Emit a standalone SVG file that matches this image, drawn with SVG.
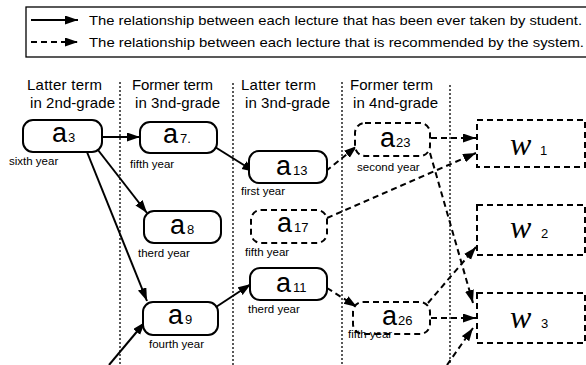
<svg xmlns="http://www.w3.org/2000/svg" width="586" height="365" viewBox="0 0 586 365">
<style>
text{font-family:"Liberation Sans","Noto Sans",sans-serif;fill:#000}
.hd{font-size:15px}
.lg{font-size:13.5px}
.sm{font-size:11.5px}
.big{font-size:27px}
.sub{font-size:13px}
.w{font-family:"Liberation Serif","DejaVu Serif",serif;font-style:italic;font-size:32px}
.box{fill:#fff;stroke:#000;stroke-width:2}
.dbox{fill:#fff;stroke:#000;stroke-width:2;stroke-dasharray:6,4}
.col{stroke:#000;stroke-width:1.3;stroke-dasharray:2,2;fill:none}
.s{stroke:#000;stroke-width:2;fill:none;marker-end:url(#ah)}
.d{stroke:#000;stroke-width:2;fill:none;stroke-dasharray:6,4;marker-end:url(#ah)}
</style>
<defs>
<marker id="ah" markerUnits="userSpaceOnUse" markerWidth="14" markerHeight="10" refX="13" refY="4.5" orient="auto">
<path d="M0,0 L13,4.5 L0,9 z" fill="#000"/>
</marker>
</defs>
<rect width="586" height="365" fill="#fff"/>

<g id="legend">
<rect x="26" y="7" width="570" height="50" fill="none" stroke="#000" stroke-width="1.3"/>
<line x1="31" y1="20" x2="78" y2="20" class="s"/>
<text x="89" y="25" class="lg" textLength="493" lengthAdjust="spacingAndGlyphs">The relationship between each lecture that has been ever taken by student.</text>
<line x1="31" y1="42" x2="78" y2="42" class="d"/>
<text x="89" y="47" class="lg" textLength="495" lengthAdjust="spacingAndGlyphs">The relationship between each lecture that is recommended by the system.</text>
</g>

<g id="columns">
<line x1="120" y1="82" x2="120" y2="365" class="col"/>
<line x1="233" y1="83" x2="233" y2="365" class="col"/>
<line x1="342" y1="82" x2="342" y2="365" class="col"/>
<line x1="450" y1="85" x2="450" y2="365" class="col"/>
<text x="27" y="90" class="hd" textLength="75">Latter term</text>
<text x="30" y="108" class="hd" textLength="85">in 2nd-grade</text>
<text x="132" y="90" class="hd" textLength="81">Former term</text>
<text x="135" y="108" class="hd" textLength="85">in 3nd-grade</text>
<text x="241" y="90" class="hd" textLength="75">Latter term</text>
<text x="245" y="108" class="hd" textLength="85">in 3nd-grade</text>
<text x="350" y="90" class="hd" textLength="83">Former term</text>
<text x="353" y="108" class="hd" textLength="85">in 4nd-grade</text>
</g>

<g id="connectors">
<line x1="102" y1="137" x2="140" y2="137" class="s"/>
<line x1="215" y1="147" x2="255" y2="172" class="s"/>
<line x1="98" y1="150" x2="147" y2="213" class="s"/>
<line x1="87" y1="152" x2="147" y2="301" class="s"/>
<line x1="109" y1="365" x2="145" y2="322" class="s"/>
<line x1="216" y1="307" x2="251" y2="284" class="s"/>
<line x1="326" y1="171" x2="357" y2="146" class="d"/>
<line x1="327" y1="218" x2="476" y2="153" class="d"/>
<line x1="431" y1="138" x2="476" y2="138" class="d"/>
<line x1="430" y1="153" x2="473" y2="303" class="d"/>
<line x1="428" y1="303" x2="476" y2="247" class="d"/>
<line x1="431" y1="318" x2="476" y2="318" class="d"/>
<line x1="327" y1="288" x2="357" y2="307" class="d"/>
<line x1="447" y1="365" x2="473" y2="328" class="d"/>
</g>

<g id="a3">
<rect x="23" y="120" width="79" height="32" rx="10" class="box"/>
<text x="52" y="142" class="big">a</text><text x="68" y="142" class="sub">3</text>
<text x="9" y="165" class="sm">sixth year</text>
</g>
<g id="a7">
<rect x="140" y="122" width="77" height="31" rx="10" class="box"/>
<text x="163" y="143" class="big">a</text><text x="180" y="143" class="sub">7.</text>
<text x="130" y="168" class="sm">fifth year</text>
</g>
<g id="a13">
<rect x="249" y="151" width="78" height="32" rx="10" class="box"/>
<text x="276" y="175" class="big">a</text><text x="293" y="175" class="sub">13</text>
<text x="241" y="195" class="sm">first year</text>
</g>
<g id="a17">
<rect x="251" y="210" width="76" height="33" rx="10" class="dbox"/>
<text x="277" y="232" class="big">a</text><text x="294" y="232" class="sub">17</text>
<text x="245" y="256" class="sm">fifth year</text>
</g>
<g id="a8">
<rect x="144" y="211" width="77" height="32" rx="10" class="box"/>
<text x="170" y="234" class="big">a</text><text x="187" y="234" class="sub">8</text>
<text x="138" y="257" class="sm">therd year</text>
</g>
<g id="a11">
<rect x="250" y="268" width="77" height="32" rx="10" class="box"/>
<text x="276" y="292" class="big">a</text><text x="293" y="292" class="sub">11</text>
<text x="248" y="313" class="sm">therd year</text>
</g>
<g id="a9">
<rect x="143" y="302" width="75" height="33" rx="10" class="box"/>
<text x="168" y="324" class="big">a</text><text x="185" y="324" class="sub">9</text>
<text x="149" y="348" class="sm">fourth year</text>
</g>
<g id="a23">
<rect x="355" y="123" width="75" height="33" rx="10" class="dbox"/>
<text x="380" y="147" class="big">a</text><text x="396" y="147" class="sub">23</text>
<text x="357" y="171" class="sm">second year</text>
</g>
<g id="a26">
<rect x="353" y="302" width="77" height="32" rx="10" class="dbox"/>
<text x="382" y="325" class="big">a</text><text x="398" y="325" class="sub">26</text>
<text x="348" y="338" class="sm">fifth year</text>
</g>
<g id="w1">
<rect x="477" y="120" width="108" height="47" class="dbox"/>
<text x="510" y="155" class="w">w</text><text x="540" y="155" class="sub">1</text>
</g>
<g id="w2">
<rect x="477" y="205" width="108" height="50" class="dbox"/>
<text x="510" y="238" class="w">w</text><text x="541" y="238" class="sub">2</text>
</g>
<g id="w3">
<rect x="477" y="293" width="108" height="50" class="dbox"/>
<text x="510" y="328" class="w">w</text><text x="541" y="328" class="sub">3</text>
</g>
</svg>
